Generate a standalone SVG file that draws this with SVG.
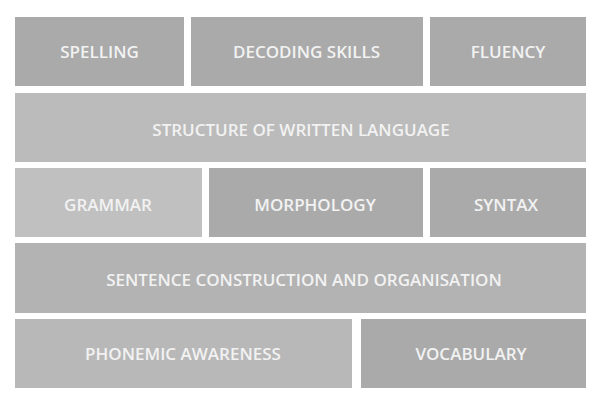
<svg xmlns="http://www.w3.org/2000/svg" width="600" height="400" viewBox="0 0 600 400">
<style>
text{font-family:"Open Sans","Noto Sans","Liberation Sans",sans-serif;font-weight:600;font-size:17px;fill:#f2f2f2;text-anchor:middle}
.d{fill:#aaaaaa}
.l{fill:#bbbbbb}
.g{fill:#c0c0c0}
.m{fill:#b3b3b3}
.p{fill:#b8b8b8}
</style>
<rect width="600" height="400" fill="#ffffff"/>
<g id="spelling"><rect class="d" x="15" y="17" width="169" height="69"/><text x="99.5" y="57.5">SPELLING</text></g>
<g id="decoding"><rect class="d" x="191" y="17" width="232" height="69"/><text x="306.5" y="57.5">DECODING SKILLS</text></g>
<g id="fluency"><rect class="d" x="430" y="17" width="156" height="69"/><text x="508" y="57.5">FLUENCY</text></g>
<g id="structure"><rect class="l" x="15" y="93" width="571" height="69"/><text x="301" y="136">STRUCTURE OF WRITTEN LANGUAGE</text></g>
<g id="grammar"><rect class="g" x="15" y="168" width="187" height="69"/><text x="108" y="210.5">GRAMMAR</text></g>
<g id="morphology"><rect class="d" x="209" y="168" width="214" height="69"/><text x="315" y="210.5">MORPHOLOGY</text></g>
<g id="syntax"><rect class="d" x="430" y="168" width="156" height="69"/><text x="506" y="210.5">SYNTAX</text></g>
<g id="sentence"><rect class="m" x="15" y="243" width="571" height="70"/><text x="304" y="285.5">SENTENCE CONSTRUCTION AND ORGANISATION</text></g>
<g id="phonemic"><rect class="p" x="15" y="319" width="337" height="69"/><text x="183" y="359.5">PHONEMIC AWARENESS</text></g>
<g id="vocabulary"><rect class="d" x="361" y="319" width="225" height="69"/><text x="471" y="359.5">VOCABULARY</text></g>
<g id="connectors"></g>
</svg>
